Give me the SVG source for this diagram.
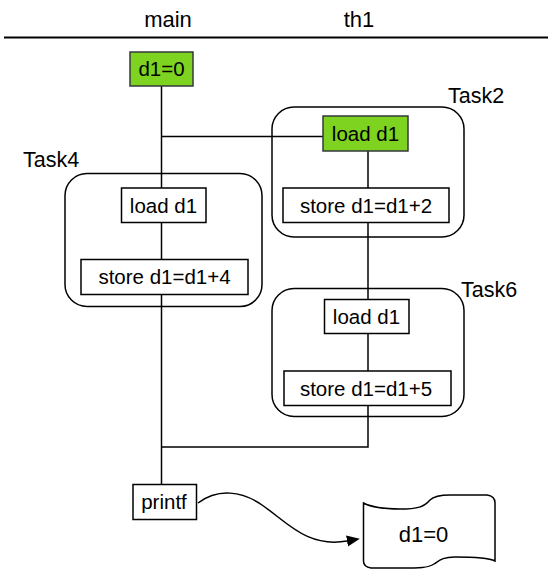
<svg xmlns="http://www.w3.org/2000/svg" width="556" height="580" viewBox="0 0 556 580">
<defs>
<style>
text{font-family:"Liberation Sans",Arial,sans-serif;fill:#000;}
.t{font-size:20.5px;text-anchor:middle;}
.lbl{font-size:21.5px;}
.hdr{font-size:22px;text-anchor:middle;}
.box{fill:#fff;stroke:#000;stroke-width:1.5;}
.green{fill:#7ED321;stroke:#36393d;stroke-width:1.5;}
.task{fill:none;stroke:#000;stroke-width:1.5;}
.conn{fill:none;stroke:#000;stroke-width:1.5;}
</style>
<marker id="arr" markerUnits="userSpaceOnUse" markerWidth="14" markerHeight="12" refX="0" refY="5.5" orient="auto">
<path d="M0,0 L13,5.5 L0,11 z" fill="#000"/>
</marker>
</defs>
<rect width="556" height="580" fill="#fff"/>

<g id="header">
<text class="hdr" x="168" y="27">main</text>
<text class="hdr" x="359" y="27">th1</text>
<line x1="4" y1="37.5" x2="548" y2="37.5" stroke="#000" stroke-width="2"/>
</g>

<g id="connectors">
<path class="conn" d="M161.5,86 V188"/>
<path class="conn" d="M161.5,222.5 V259.5"/>
<path class="conn" d="M161.5,294.5 V484.5"/>
<path class="conn" d="M161.5,136.5 H323"/>
<path class="conn" d="M368,151 V188"/>
<path class="conn" d="M368,222.5 V299.5"/>
<path class="conn" d="M368,333.5 V371"/>
<path class="conn" d="M368,405.5 V447 H161.5"/>
<path class="conn" d="M198,503 C218,488 242,491 262,505 C287,522 307,548 347,541" marker-end="url(#arr)"/>
</g>

<g id="task2">
<rect class="task" x="272" y="107" width="192" height="130" rx="22" ry="22"/>
<text class="lbl" x="448" y="103">Task2</text>
</g>
<g id="task4">
<rect class="task" x="65" y="173.5" width="197" height="133" rx="22" ry="22"/>
<text class="lbl" x="23" y="167">Task4</text>
</g>
<g id="task6">
<rect class="task" x="272" y="288.5" width="192" height="128" rx="22" ry="22"/>
<text class="lbl" x="461" y="297">Task6</text>
</g>

<g id="d1init">
<rect class="green" x="130" y="52" width="63" height="34"/>
<text class="t" x="161.5" y="76">d1=0</text>
</g>
<g id="t2load">
<rect class="green" x="323" y="116" width="85" height="35"/>
<text class="t" x="365.5" y="141">load d1</text>
</g>
<g id="t2store">
<rect class="box" x="283" y="188" width="166" height="34.5"/>
<text class="t" x="366" y="212.5">store d1=d1+2</text>
</g>
<g id="t4load">
<rect class="box" x="121.5" y="188" width="84.5" height="34.5"/>
<text class="t" x="163.5" y="212.5">load d1</text>
</g>
<g id="t4store">
<rect class="box" x="81" y="259.5" width="167" height="35"/>
<text class="t" x="164.5" y="284">store d1=d1+4</text>
</g>
<g id="t6load">
<rect class="box" x="324.5" y="299.5" width="84.5" height="34"/>
<text class="t" x="366.5" y="324">load d1</text>
</g>
<g id="t6store">
<rect class="box" x="284" y="371" width="167" height="34.5"/>
<text class="t" x="366" y="395.5">store d1=d1+5</text>
</g>
<g id="printf">
<rect class="box" x="133" y="484.5" width="63.5" height="35"/>
<text class="t" x="164" y="509">printf</text>
</g>
<g id="output">
<path class="box" d="M363.5,503 C373,508 385,509 400,509 C418,509 424,507 430,500 C434,496 440,495 450,495 L487,495 Q495,496 495,503 L495,561 C489,558 470,557 455,557 C443,557 440,560 434,564 C428,568 420,568 400,568 L371,568 Q363.5,567 363.5,561 Z"/>
<text class="t" x="423.5" y="542" style="font-size:22px">d1=0</text>
</g>
</svg>
